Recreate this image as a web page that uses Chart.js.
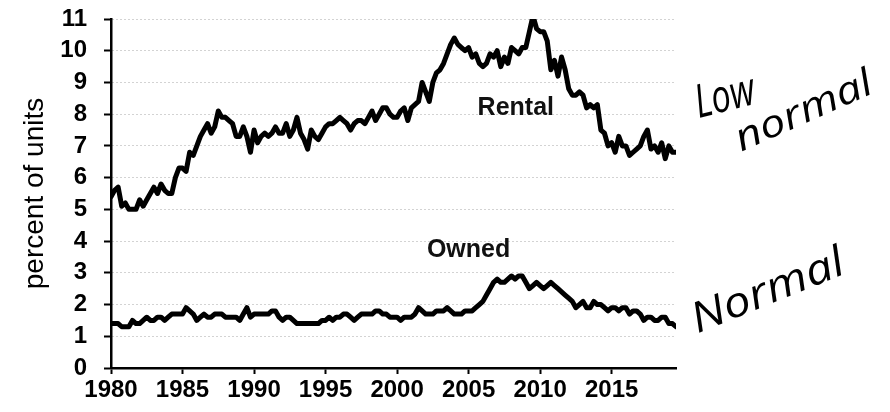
<!DOCTYPE html>
<html>
<head>
<meta charset="utf-8">
<script src="https://cdn.jsdelivr.net/npm/chart.js@4.4.1/dist/chart.umd.min.js"></script>
<style>
  html, body { margin: 0; padding: 0; background: #fff; }
  #wrap { width: 890px; height: 412px; }
</style>
</head>
<body>
<div id="wrap"><canvas id="vacancy" width="890" height="412"></canvas></div>
<script>
// quarterly vacancy rates, first quarter of 1980 onward
const startYear = 1980;

const rental = [
  5.4, 5.6, 5.7, 5.1,   // 1980
  5.2, 5.0, 5.0, 5.0,   // 1981
  5.3, 5.1, 5.3, 5.5,   // 1982
  5.7, 5.5, 5.8, 5.6,   // 1983
  5.5, 5.5, 6.0, 6.3,   // 1984
  6.3, 6.2, 6.8, 6.7,   // 1985
  7.0, 7.3, 7.5, 7.7,   // 1986
  7.4, 7.6, 8.1, 7.9,   // 1987
  7.9, 7.8, 7.7, 7.3,   // 1988
  7.3, 7.6, 7.3, 6.8,   // 1989
  7.5, 7.1, 7.3, 7.4,   // 1990
  7.3, 7.4, 7.6, 7.4,   // 1991
  7.4, 7.7, 7.3, 7.5,   // 1992
  7.9, 7.4, 7.2, 6.9,   // 1993
  7.5, 7.3, 7.2, 7.4,   // 1994
  7.6, 7.7, 7.7, 7.8,   // 1995
  7.9, 7.8, 7.7, 7.5,   // 1996
  7.7, 7.8, 7.8, 7.7,   // 1997
  7.9, 8.1, 7.8, 8.0,   // 1998
  8.2, 8.2, 8.0, 7.9,   // 1999
  7.9, 8.1, 8.2, 7.8,   // 2000
  8.2, 8.3, 8.4, 9.0,   // 2001
  8.7, 8.4, 9.0, 9.3,   // 2002
  9.4, 9.6, 9.9, 10.2,  // 2003
  10.4, 10.2, 10.1, 10.0, // 2004
  10.1, 9.8, 9.9, 9.6,  // 2005
  9.5, 9.6, 9.9, 9.8,   // 2006
  10.0, 9.5, 9.8, 9.6,  // 2007
  10.1, 10.0, 9.9, 10.1, // 2008
  10.1, 10.6, 11.1, 10.7, // 2009
  10.6, 10.6, 10.3, 9.4, // 2010
  9.7, 9.2, 9.8, 9.4,   // 2011
  8.8, 8.6, 8.6, 8.7,   // 2012
  8.6, 8.2, 8.3, 8.2,   // 2013
  8.3, 7.5, 7.4, 7.0,   // 2014
  7.1, 6.8, 7.3, 7.0,   // 2015
  7.0, 6.7, 6.8, 6.9,   // 2016
  7.0, 7.3, 7.5, 6.9,   // 2017
  7.0, 6.8, 7.1, 6.6,   // 2018
  7.0, 6.8, 6.8         // 2019
];

const owned = [
  1.4, 1.4, 1.4, 1.3,   // 1980
  1.3, 1.3, 1.5, 1.4,   // 1981
  1.4, 1.5, 1.6, 1.5,   // 1982
  1.5, 1.6, 1.6, 1.5,   // 1983
  1.6, 1.7, 1.7, 1.7,   // 1984
  1.7, 1.9, 1.8, 1.7,   // 1985
  1.5, 1.6, 1.7, 1.6,   // 1986
  1.6, 1.7, 1.7, 1.7,   // 1987
  1.6, 1.6, 1.6, 1.6,   // 1988
  1.5, 1.7, 1.9, 1.6,   // 1989
  1.7, 1.7, 1.7, 1.7,   // 1990
  1.7, 1.8, 1.8, 1.6,   // 1991
  1.5, 1.6, 1.6, 1.5,   // 1992
  1.4, 1.4, 1.4, 1.4,   // 1993
  1.4, 1.4, 1.4, 1.5,   // 1994
  1.5, 1.6, 1.5, 1.6,   // 1995
  1.6, 1.7, 1.7, 1.6,   // 1996
  1.5, 1.6, 1.7, 1.7,   // 1997
  1.7, 1.7, 1.8, 1.8,   // 1998
  1.7, 1.7, 1.6, 1.6,   // 1999
  1.6, 1.5, 1.6, 1.6,   // 2000
  1.6, 1.7, 1.9, 1.8,   // 2001
  1.7, 1.7, 1.7, 1.8,   // 2002
  1.8, 1.8, 1.9, 1.8,   // 2003
  1.7, 1.7, 1.7, 1.8,   // 2004
  1.8, 1.8, 1.9, 2.0,   // 2005
  2.1, 2.3, 2.5, 2.7,   // 2006
  2.8, 2.7, 2.7, 2.8,   // 2007
  2.9, 2.8, 2.9, 2.9,   // 2008
  2.7, 2.5, 2.6, 2.7,   // 2009
  2.6, 2.5, 2.6, 2.7,   // 2010
  2.6, 2.5, 2.4, 2.3,   // 2011
  2.2, 2.1, 1.9, 2.0,   // 2012
  2.1, 1.9, 1.9, 2.1,   // 2013
  2.0, 2.0, 1.9, 1.8,   // 2014
  1.9, 1.9, 1.8, 1.9,   // 2015
  1.9, 1.7, 1.8, 1.8,   // 2016
  1.7, 1.5, 1.6, 1.6,   // 2017
  1.5, 1.5, 1.6, 1.6,   // 2018
  1.4, 1.4, 1.3         // 2019
];

// series labels placed in data units
const seriesLabels = [
  { text: 'Rental', x: 2008.3, y: 8.2 },
  { text: 'Owned', x: 2005.0, y: 3.7 }
];

const toPoints = arr => arr.map((v, i) => ({ x: startYear + i / 4, y: v }));

const labelPlugin = {
  id: 'labels',
  afterDatasetsDraw(chart) {
    const ctx = chart.ctx;
    const { x, y } = chart.scales;
    ctx.save();
    ctx.fillStyle = '#111';
    ctx.font = 'bold 25px "Liberation Sans", Arial, sans-serif';
    ctx.textAlign = 'center';
    ctx.textBaseline = 'middle';
    seriesLabels.forEach(l => {
      ctx.fillText(l.text, x.getPixelForValue(l.x), y.getPixelForValue(l.y));
    });
    ctx.restore();

    // handwritten notes on the right
    const notes = [
      { text: 'Low', cx: 725, cy: 98, rot: -14, sx: 0.75, size: 46 },
      { text: 'normal', cx: 804, cy: 112, rot: -24, sx: 1.2, size: 38 },
      { text: 'Normal', cx: 768, cy: 292, rot: -22, sx: 1.15, size: 42 }
    ];
    notes.forEach(n => {
      ctx.save();
      ctx.translate(n.cx, n.cy);
      ctx.rotate(n.rot * Math.PI / 180);
      ctx.scale(n.sx, 1);
      ctx.fillStyle = '#000';
      ctx.font = 'italic ' + n.size + 'px "Open Sans", sans-serif';
      ctx.textAlign = 'center';
      ctx.textBaseline = 'middle';
      ctx.fillText(n.text, 0, 0);
      ctx.restore();
    });
  }
};

new Chart(document.getElementById('vacancy'), {
  type: 'line',
  data: {
    datasets: [
      { label: 'Rental', data: toPoints(rental) },
      { label: 'Owned', data: toPoints(owned) }
    ]
  },
  options: {
    responsive: false,
    animation: false,
    devicePixelRatio: 1,
    layout: { padding: { left: 15, right: 214, top: 19, bottom: 0 } },
    elements: {
      line: { borderColor: '#000', borderWidth: 5, tension: 0, borderJoinStyle: 'round', borderCapStyle: 'round' },
      point: { radius: 0 }
    },
    plugins: {
      legend: { display: false },
      tooltip: { enabled: false }
    },
    scales: {
      x: {
        type: 'linear',
        min: 1980,
        max: 2019.5,
        afterFit: s => { s.height = 44; },
        border: { display: true, color: '#000', width: 2.5 },
        grid: { drawOnChartArea: false, drawTicks: true, tickLength: 6, tickColor: '#000', tickWidth: 2 },
        ticks: {
          stepSize: 5,
          includeBounds: false,
          autoSkip: false,
          padding: 2,
          color: '#000',
          maxRotation: 0,
          font: { family: '"Liberation Sans", Arial, sans-serif', size: 24, weight: 'bold' },
          callback: v => String(v)
        }
      },
      y: {
        min: 0,
        max: 11,
        afterFit: s => { s.width = 96; s.paddingTop = 0; s.paddingBottom = 0; },
        border: { display: true, color: '#000', width: 2.5, dash: [1, 3] },
        grid: { color: 'rgba(0,0,0,0.35)', lineWidth: 1, tickLength: 7, tickColor: '#000', tickWidth: 2, tickBorderDash: [] },
        ticks: {
          stepSize: 1,
          autoSkip: false,
          padding: 17,
          color: '#000',
          font: { family: '"Liberation Sans", Arial, sans-serif', size: 24, weight: 'bold' }
        },
        title: {
          display: true,
          text: 'percent of units',
          color: '#000',
          padding: { top: 3, bottom: 0 },
          font: { family: '"Liberation Sans", Arial, sans-serif', size: 28 }
        }
      }
    }
  },
  plugins: [labelPlugin]
});
</script>
</body>
</html>
